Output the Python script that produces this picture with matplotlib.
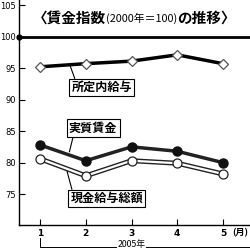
import matplotlib.pyplot as plt

plt.rcParams['font.family'] = ['Noto Sans CJK JP', 'DejaVu Sans']

months = [1, 2, 3, 4, 5]
shoteinai = [95.2, 95.7, 96.1, 97.1, 95.7]    # 所定内給与
jisshitsu = [82.8, 80.3, 82.5, 81.8, 80.0]    # 実質賃金
genkin = [80.6, 77.9, 80.3, 79.9, 78.2]       # 現金給与総額
yticks = [75, 80, 85, 90, 95, 100, 105]

fig = plt.figure(figsize=(2.5, 2.5), dpi=100)
ax = fig.add_axes([0.076, 0.1, 0.924, 0.9])
x0, x1 = 0.538, 5.593
y0, y1 = 70.1, 105.8
ax.set_xlim(x0, x1)
ax.set_ylim(y0, y1)

# base line at 100
ax.axhline(100, color='black', lw=2, zorder=2)
ax.plot([x0], [100], 'o', color='black', ms=3.5, clip_on=False, zorder=3)

ax.plot(months, shoteinai, color='black', lw=2.5, marker='D', ms=5.5,
        mfc='white', mec='#555555', mew=0.9, zorder=4)
ax.plot(months, jisshitsu, color='#222222', lw=2.5, marker='o', ms=6.5,
        mfc='#111111', mec='#111111', zorder=4)
ax.plot(months, genkin, color='#222222', lw=3.6, zorder=4, solid_capstyle='butt')
ax.plot(months, genkin, color='white', lw=1.6, zorder=5, marker='o', ms=6.5,
        mfc='white', mec='#222222', mew=0.9)

for s in ['top', 'right']:
    ax.spines[s].set_visible(False)
ax.spines['left'].set_linewidth(1.0)
ax.spines['bottom'].set_linewidth(1.0)

ax.set_yticks(yticks)
ax.set_yticklabels([str(v) for v in yticks], fontsize=6, family='DejaVu Sans')
ax.tick_params(axis='y', direction='in', length=4, width=0.8, pad=2)
ax.set_xticks(months)
ax.set_xticklabels([str(m) for m in months], fontsize=6.5, family='DejaVu Sans',
                   fontweight='bold')
ax.tick_params(axis='x', direction='in', length=4, width=0.8, pad=3)
ax.text(5.2, 68.8, '(月)', fontsize=6.5, fontweight='bold', ha='left', va='center',
        clip_on=False)

# title, built from pieces of two sizes
fig.canvas.draw()
r = fig.canvas.get_renderer()
tx = 33 / 250
parts = [('〈賃金指数', 10.5, 'bold'), ('(2000年＝100)', 7.8, 'normal'),
         ('の推移〉', 10.5, 'bold')]
for s, fs, fw in parts:
    t = fig.text(tx, 1 - 18 / 250, s, fontsize=fs, fontweight=fw, ha='left',
                 va='center')
    tx = t.get_window_extent(r).x1 / 250

box = dict(boxstyle='square,pad=0.18', fc='white', ec='black', lw=0.8)
ax.annotate('所定内給与', xy=(1.66, 95.3), xytext=(2.35, 91.9), fontsize=8.7,
            fontweight='bold', ha='center', va='center', bbox=box, zorder=6,
            arrowprops=dict(arrowstyle='-', lw=0.8, color='black',
                            relpos=(0.07, 1), shrinkA=0, shrinkB=0))
ax.annotate('実質賃金', xy=(1.64, 81.7), xytext=(2.16, 85.5), fontsize=8.7,
            fontweight='bold', ha='center', va='center', bbox=box, zorder=6,
            arrowprops=dict(arrowstyle='-', lw=0.8, color='black',
                            relpos=(0.1, 0), shrinkA=0, shrinkB=0))
ax.annotate('現金給与総額', xy=(1.59, 78.6), xytext=(2.46, 74.3), fontsize=8.7,
            fontweight='bold', ha='center', va='center', bbox=box, zorder=6,
            arrowprops=dict(arrowstyle='-', lw=0.8, color='black',
                            relpos=(0.03, 1), shrinkA=0, shrinkB=0))

# year bracket
yb = 66.6
ax.plot([1, 1, x1], [68.0, yb, yb], color='black', lw=0.7, clip_on=False)
ax.text(3, 67.0, '2005年', fontsize=6.3, ha='center', va='center', clip_on=False,
        bbox=dict(boxstyle='square,pad=0.1', fc='white', ec='none'))

fig.savefig('out.png', dpi=100)
